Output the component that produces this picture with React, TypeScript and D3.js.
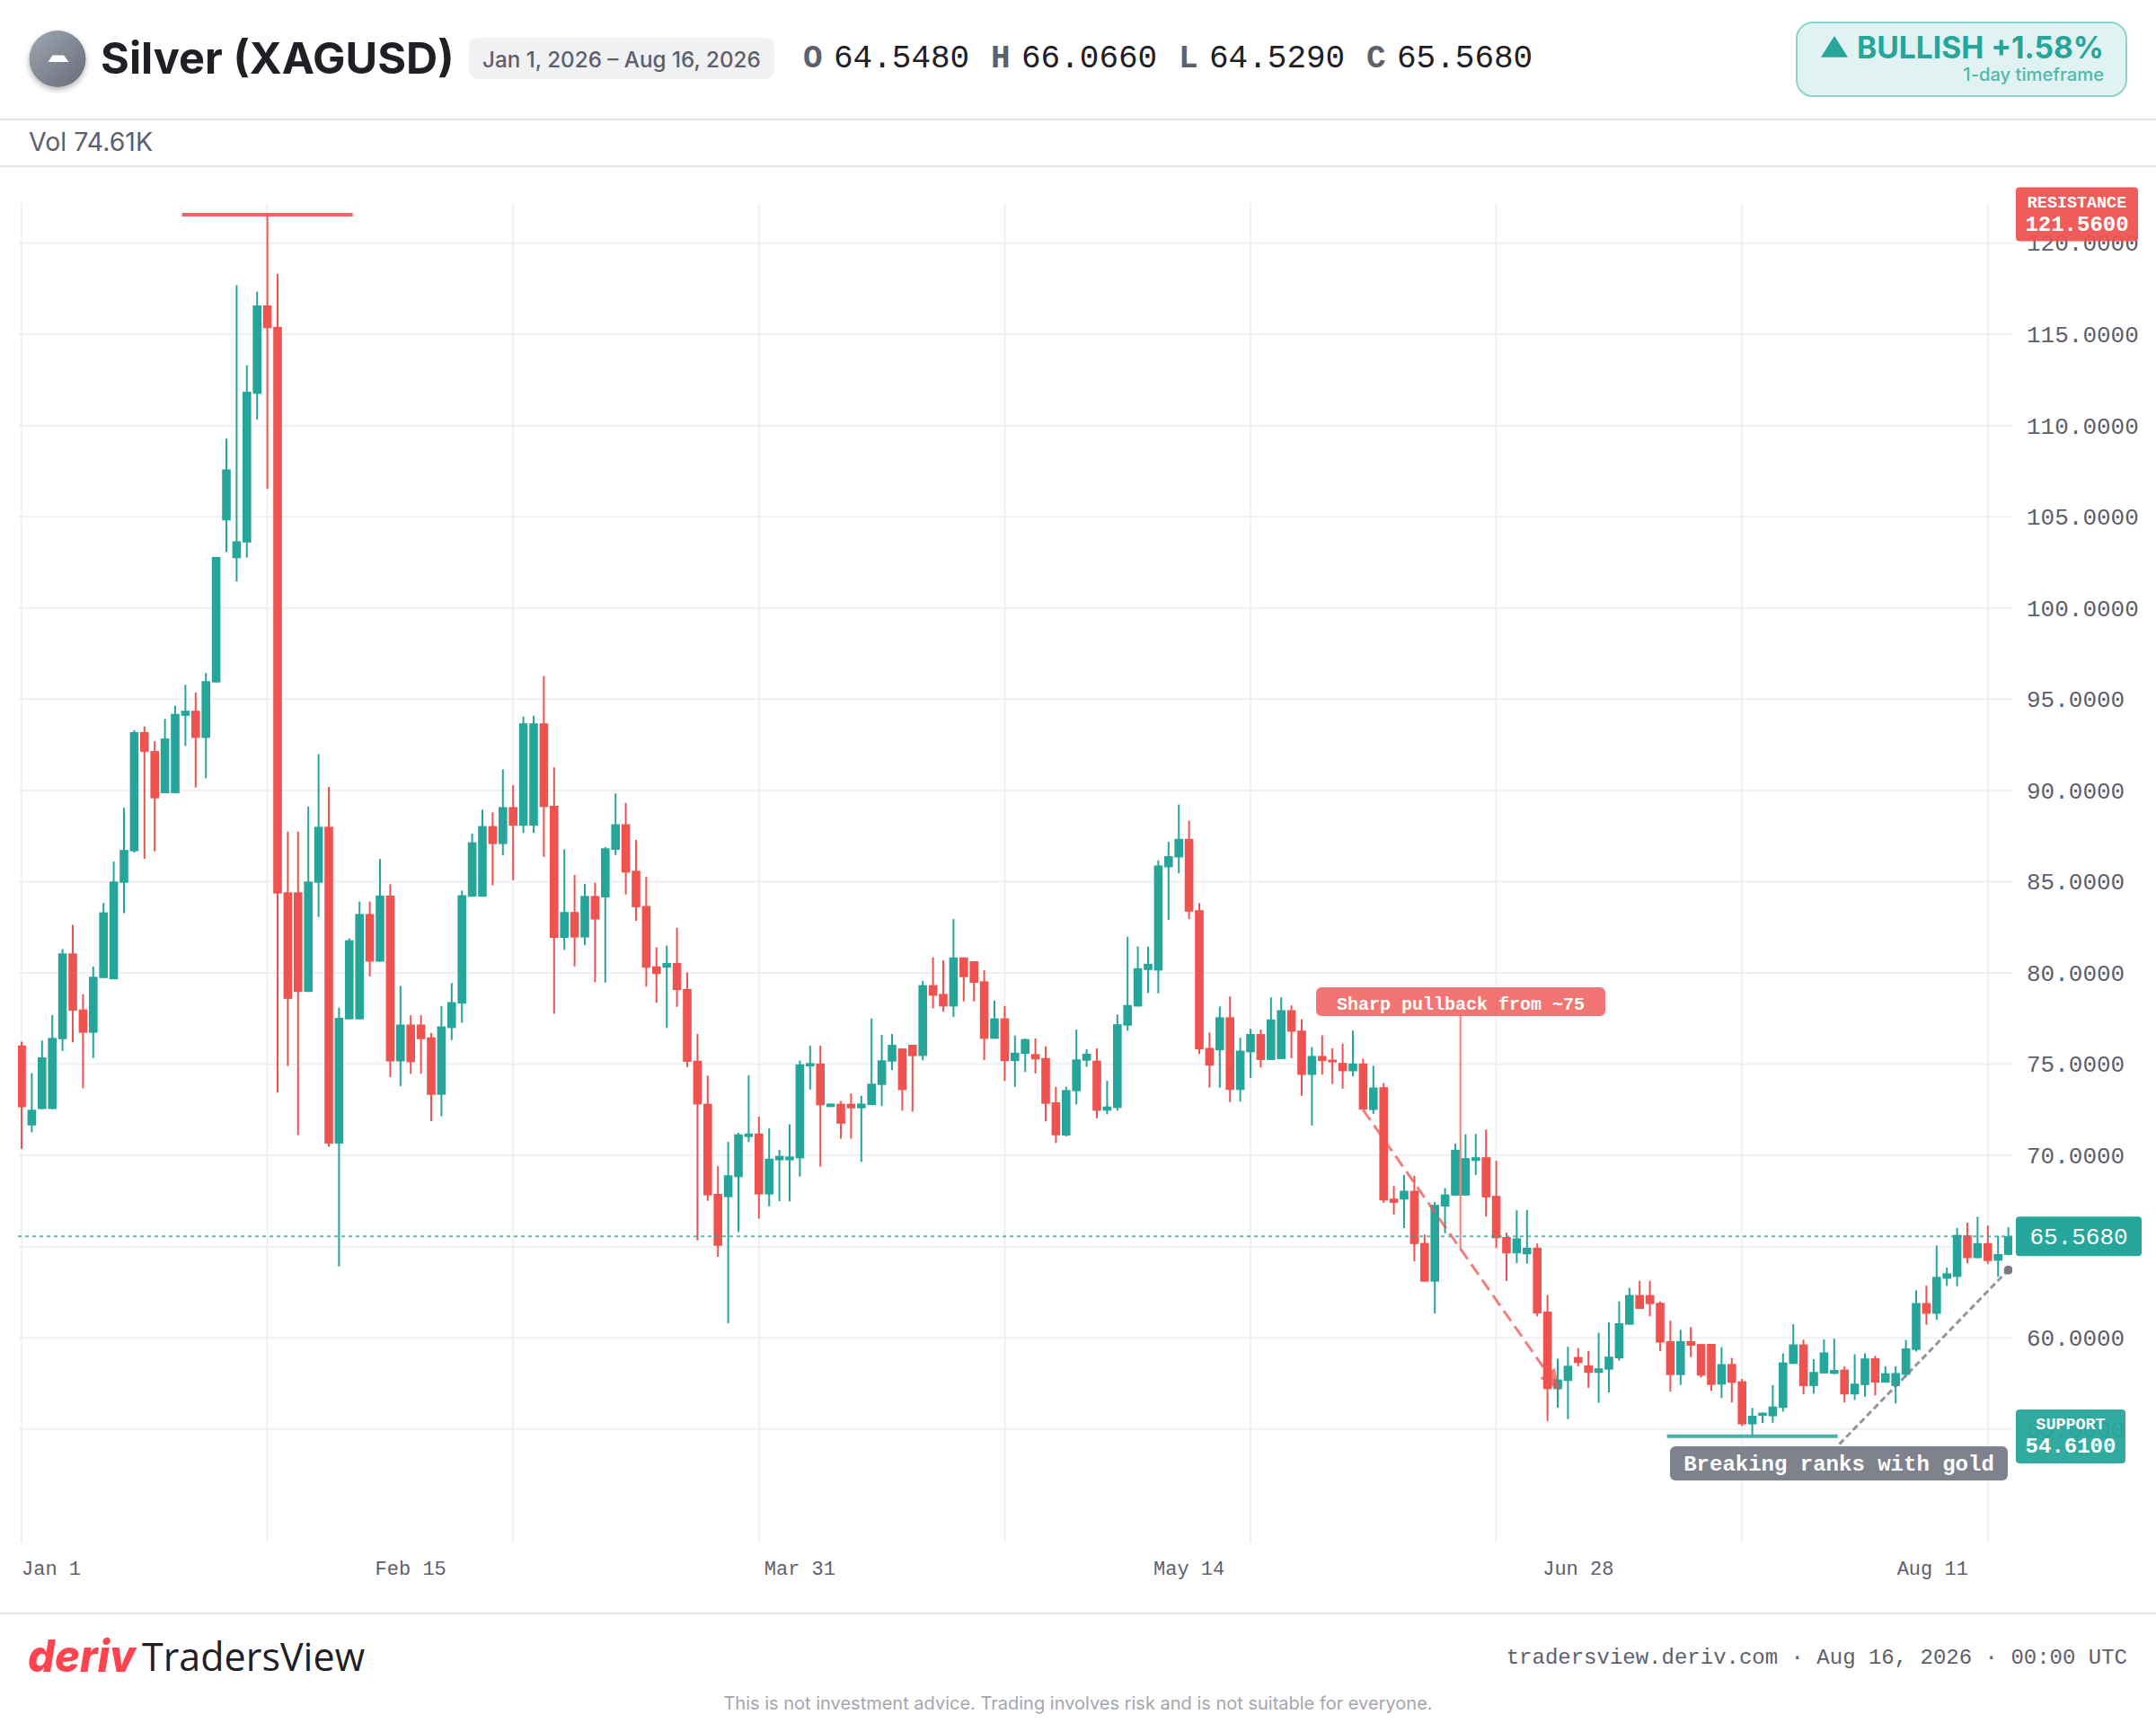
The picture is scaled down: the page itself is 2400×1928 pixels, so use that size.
import * as d3 from 'd3';
import { useEffect, useRef } from 'react';

// OHLC values, one entry per bar
const opens = [
  76.03, 71.64, 72.54, 72.54, 76.37, 81.07, 78.0, 76.72, 79.72, 79.65,
  84.94, 86.67, 93.2, 92.16, 89.85, 89.85, 94.09, 94.37, 92.88, 95.92,
  104.8, 102.73, 103.59, 111.74, 116.58, 115.41, 84.42, 84.42, 78.96, 84.94,
  88.01, 70.65, 77.46, 77.46, 83.23, 80.62, 84.24, 75.15, 77.17, 77.17,
  76.47, 73.32, 76.98, 78.32, 84.18, 84.18, 88.05, 87.06, 89.09, 88.07,
  88.07, 93.68, 89.16, 81.92, 83.34, 81.94, 84.22, 84.14, 86.75, 88.15,
  85.6, 83.67, 80.36, 80.29, 80.54, 79.12, 75.19, 72.83, 67.89, 67.71,
  68.81, 71.01, 71.2, 67.86, 69.73, 69.73, 69.84, 74.88, 75.04, 72.65,
  72.83, 72.83, 72.58, 72.76, 73.86, 75.14, 75.86, 76.06, 75.45, 79.33,
  78.85, 78.16, 80.85, 80.64, 79.54, 76.39, 77.51, 75.17, 75.57, 75.55,
  75.34, 72.91, 71.09, 73.52, 75.19, 75.19, 72.45, 72.6, 77.11, 78.16,
  80.16, 80.13, 85.79, 86.33, 87.35, 83.44, 75.89, 75.76, 77.57, 73.59,
  75.65, 76.65, 75.23, 75.28, 77.96, 76.84, 74.41, 75.45, 75.25, 75.07,
  74.61, 75.04, 72.49, 73.74, 67.63, 67.58, 68.06, 65.2, 63.08, 67.2,
  67.8, 67.8, 69.7, 69.9, 67.78, 65.53, 64.63, 64.58, 64.94, 61.44,
  57.19, 57.64, 58.95, 58.49, 58.08, 58.26, 58.88, 60.72, 62.35, 62.35,
  61.92, 59.82, 57.96, 59.82, 59.66, 59.67, 57.44, 58.57, 57.62, 55.26,
  55.73, 55.7, 56.16, 58.57, 59.64, 57.36, 58.05, 58.03, 58.26, 56.9,
  57.41, 58.88, 57.55, 57.36, 57.97, 59.34, 61.91, 61.32, 63.24, 63.34,
  65.62, 64.37, 65.19, 64.23, 64.548,
];
const highs = [
  76.24, 74.51, 76.3, 77.69, 81.31, 82.63, 78.83, 80.35, 83.83, 86.11,
  89.05, 93.3, 93.51, 92.71, 93.92, 94.65, 95.79, 95.37, 96.44, 102.8,
  109.29, 117.69, 113.3, 117.34, 121.56, 118.31, 87.74, 87.74, 89.12, 91.99,
  90.19, 78.09, 81.9, 83.91, 83.91, 86.24, 84.86, 79.29, 77.68, 77.68,
  76.72, 78.18, 79.45, 84.51, 87.64, 88.95, 88.79, 91.15, 90.29, 94.05,
  94.1, 96.27, 91.27, 86.77, 85.37, 84.88, 84.94, 86.9, 89.84, 89.32,
  87.29, 85.27, 81.4, 81.5, 82.47, 80.03, 76.65, 74.37, 69.41, 70.74,
  71.24, 74.39, 72.12, 71.48, 70.3, 71.71, 75.19, 76.01, 76.01, 72.84,
  72.98, 73.39, 73.27, 77.51, 76.6, 76.65, 75.86, 76.06, 79.56, 80.84,
  80.69, 82.95, 80.85, 80.64, 80.15, 78.49, 78.19, 76.57, 76.41, 76.41,
  75.98, 73.76, 73.76, 76.9, 75.81, 75.86, 74.09, 77.72, 81.98, 81.45,
  81.44, 86.17, 87.18, 89.23, 88.35, 83.83, 76.74, 78.16, 78.71, 76.45,
  76.94, 76.89, 78.66, 78.66, 78.22, 77.45, 75.94, 76.58, 75.87, 76.12,
  76.84, 75.3, 74.91, 73.97, 68.32, 68.93, 68.88, 65.66, 67.45, 68.21,
  70.65, 71.16, 71.18, 71.41, 69.7, 65.76, 66.99, 67.01, 65.17, 62.35,
  58.85, 59.51, 59.44, 59.29, 60.28, 60.85, 62.0, 62.74, 63.12, 63.12,
  61.99, 60.95, 60.44, 60.59, 59.66, 59.67, 59.49, 58.9, 57.75, 56.16,
  55.9, 57.41, 59.15, 60.75, 59.9, 58.83, 59.92, 59.95, 58.44, 59.1,
  59.15, 59.02, 58.44, 58.44, 59.89, 62.6, 62.86, 65.06, 63.85, 66.02,
  66.31, 66.64, 66.15, 65.59, 66.066,
];
const lows = [
  70.36, 71.26, 72.54, 72.54, 75.72, 76.2, 73.68, 75.34, 79.72, 79.65,
  83.28, 86.6, 86.25, 86.67, 89.85, 89.85, 92.44, 90.16, 90.67, 95.92,
  103.07, 101.45, 102.76, 110.33, 106.53, 73.44, 74.89, 71.12, 78.96, 83.07,
  70.47, 63.91, 77.46, 77.46, 79.82, 80.62, 74.29, 73.8, 74.47, 74.47,
  71.88, 72.15, 76.32, 77.27, 84.18, 84.18, 84.8, 86.44, 85.08, 87.68,
  87.68, 86.36, 77.76, 81.26, 80.36, 81.53, 79.49, 79.47, 86.46, 84.3,
  82.86, 79.25, 78.36, 76.98, 78.14, 74.85, 65.34, 67.51, 64.44, 60.8,
  65.8, 70.73, 66.53, 67.21, 67.49, 67.48, 68.84, 73.6, 69.38, 72.65,
  70.92, 70.92, 69.64, 72.76, 72.7, 74.67, 72.45, 72.4, 75.21, 78.06,
  77.88, 77.59, 78.44, 78.44, 75.22, 76.39, 74.08, 73.76, 74.57, 74.49,
  71.86, 70.68, 71.04, 72.8, 74.86, 72.02, 72.25, 72.45, 76.83, 78.16,
  78.91, 78.88, 82.9, 85.46, 82.95, 75.56, 73.72, 73.71, 72.92, 72.95,
  74.25, 74.82, 75.23, 75.28, 75.33, 73.27, 71.64, 74.43, 73.92, 73.66,
  74.33, 72.51, 72.28, 67.4, 66.76, 66.02, 64.2, 63.08, 61.34, 65.73,
  67.8, 67.8, 68.93, 66.65, 64.92, 63.12, 64.09, 64.07, 61.18, 55.44,
  56.17, 55.55, 58.44, 57.26, 56.44, 57.01, 58.75, 60.72, 61.59, 61.18,
  59.28, 57.05, 57.42, 58.95, 57.83, 57.09, 56.7, 56.46, 55.17, 54.61,
  55.34, 55.34, 55.96, 58.57, 56.9, 56.95, 58.05, 58.0, 56.46, 56.6,
  56.77, 56.85, 57.55, 56.41, 57.84, 59.25, 60.71, 60.99, 62.85, 62.83,
  64.09, 64.37, 64.05, 63.34, 64.529,
];
const closes = [
  72.64, 72.5, 75.37, 76.44, 81.07, 77.93, 76.72, 79.79, 83.32, 85.01,
  86.74, 93.2, 92.12, 89.57, 92.85, 94.2, 94.37, 92.88, 95.99, 102.8,
  107.6, 103.66, 111.85, 116.58, 115.34, 84.35, 78.58, 78.96, 85.01, 88.01,
  70.65, 77.54, 81.79, 83.23, 80.62, 84.24, 75.15, 77.17, 75.11, 76.37,
  73.32, 77.07, 78.4, 84.26, 87.16, 88.05, 87.06, 89.09, 88.07, 93.68,
  93.68, 89.09, 81.92, 83.34, 81.94, 84.22, 82.93, 86.83, 88.15, 85.5,
  83.6, 80.29, 79.94, 80.54, 79.06, 75.13, 72.79, 67.81, 65.05, 68.91,
  71.15, 71.2, 67.86, 69.82, 69.97, 69.94, 74.99, 75.06, 72.75, 72.84,
  71.74, 72.58, 72.84, 73.93, 75.21, 76.06, 73.58, 75.44, 79.33, 78.75,
  78.16, 80.85, 79.77, 79.46, 76.39, 77.51, 75.17, 75.63, 76.37, 75.26,
  72.83, 71.1, 73.58, 75.26, 75.57, 72.45, 72.68, 77.19, 78.24, 80.26,
  80.5, 85.89, 86.4, 87.35, 83.36, 75.81, 74.92, 77.57, 73.59, 75.74,
  76.65, 75.23, 77.45, 77.96, 76.78, 74.41, 75.45, 75.17, 75.1, 74.61,
  75.04, 72.51, 73.72, 67.53, 67.4, 68.06, 65.14, 63.08, 67.29, 67.86,
  70.31, 69.85, 69.9, 67.7, 65.46, 64.63, 65.45, 64.94, 61.34, 57.19,
  57.72, 58.47, 58.62, 58.08, 58.33, 58.97, 60.8, 62.35, 61.59, 61.85,
  59.74, 57.96, 59.82, 59.57, 57.93, 57.42, 58.56, 57.54, 55.26, 55.73,
  55.9, 56.24, 58.65, 59.64, 57.36, 58.13, 59.2, 58.24, 56.9, 57.49,
  58.87, 57.55, 58.06, 58.07, 59.42, 61.91, 61.32, 63.34, 63.54, 65.64,
  64.37, 65.19, 64.21, 64.59, 65.568,
];

const priceTicks = [55, 60, 65, 70, 75, 80, 85, 90, 95, 100, 105, 110, 115, 120];
const gridBars = [0, 24, 48, 72, 96, 120, 144, 168, 192];
const dateLabels = ['Jan 1', 'Feb 15', 'Mar 31', 'May 14', 'Jun 28', 'Aug 11'];
const dateBars = [0, 38, 76, 114, 152, 186.6];

const lastPrice = 65.568;
const resistance = 121.56;
const support = 54.61;
const resistanceBar = 24;
const supportBar = 169;
const pullbackFrom = [131, 72.5];
const pullbackTo = [150.2, 57.1];
const pullbackLabelBar = 140.5;
const pullbackLabelEnd = 64.85;
const trendFrom = [177.5, 54.17];
const trendTo = [194, 63.72];

const ohlcHeader = [
  ['O', '64.5480', 894, 928],
  ['H', '66.0660', 1103, 1137],
  ['L', '64.5290', 1312, 1346],
  ['C', '65.5680', 1521, 1555],
];

const GREEN = '#26a69a';
const RED = '#ef5350';
const GRAY = '#787b86';
const MUTED = '#5d606b';
const DARK = '#1e2026';
const MONO = '"Liberation Mono", monospace';
const SANS = 'Inter, sans-serif';

export default function App() {
  const svgRef = useRef(null);

  useEffect(() => {
    const svg = d3.select(svgRef.current);
    svg.selectAll('*').remove();

    const x = d3.scaleLinear().domain([0, 194]).range([24, 2235.6]);
    const y = d3.scaleLinear().domain([120, 55]).range([270.6, 1590.8]);

    const defs = svg.append('defs');
    defs
      .append('clipPath')
      .attr('id', 'plot')
      .append('rect')
      .attr('x', 20)
      .attr('y', 226)
      .attr('width', 2220)
      .attr('height', 1491);
    const grad = defs
      .append('linearGradient')
      .attr('id', 'coin')
      .attr('x1', 0)
      .attr('y1', 0)
      .attr('x2', 1)
      .attr('y2', 1);
    grad.append('stop').attr('offset', 0).attr('stop-color', '#a0a6b1');
    grad.append('stop').attr('offset', 1).attr('stop-color', '#656b78');
    const shadow = defs.append('filter').attr('id', 'coinShadow');
    shadow
      .append('feDropShadow')
      .attr('dx', 0)
      .attr('dy', 3)
      .attr('stdDeviation', 3)
      .attr('flood-opacity', 0.3);

    const addText = (
      parent: any,
      str: string,
      tx: number,
      ty: number,
      size: number,
      fill: string,
      family = MONO,
      weight: any = 400,
      anchor = 'start'
    ) =>
      parent
        .append('text')
        .attr('x', tx)
        .attr('y', ty)
        .attr('font-family', family)
        .attr('font-size', size)
        .attr('font-weight', weight)
        .attr('fill', fill)
        .attr('text-anchor', anchor)
        .text(str);

    // Header
    const head = svg.append('g');
    head
      .append('circle')
      .attr('cx', 64)
      .attr('cy', 65.5)
      .attr('r', 31.5)
      .attr('fill', 'url(#coin)')
      .attr('filter', 'url(#coinShadow)');
    head
      .append('path')
      .attr('d', 'M58.5,61.5 L71,61.5 L76.5,69 L53.5,69 Z')
      .attr('fill', '#fff');
    addText(head, 'Silver (XAGUSD)', 112, 82, 48.7, DARK, SANS, 700);
    head
      .append('rect')
      .attr('x', 522)
      .attr('y', 42)
      .attr('width', 340)
      .attr('height', 46)
      .attr('rx', 10)
      .attr('fill', '#f0f1f3');
    addText(head, 'Jan 1, 2026 – Aug 16, 2026', 537, 75, 24.2, MUTED, SANS, 500);
    ohlcHeader.forEach(([label, value, lx, vx]) => {
      addText(head, label as string, lx as number, 75, 36, MUTED, MONO, 700);
      addText(head, value as string, vx as number, 75, 36, DARK);
    });

    // Bullish badge
    head
      .append('rect')
      .attr('x', 2000)
      .attr('y', 25)
      .attr('width', 367)
      .attr('height', 82)
      .attr('rx', 18)
      .attr('fill', '#e0f2f1')
      .attr('stroke', '#8fd3cc')
      .attr('stroke-width', 2);
    head.append('path').attr('d', 'M2027,63.7 L2042,40 L2057,63.7 Z').attr('fill', GREEN);
    addText(head, 'BULLISH +1.58%', 2067, 64.5, 33.6, GREEN, SANS, 700);
    addText(head, '1-day timeframe', 2342, 90, 20.2, '#52b8ae', SANS, 500, 'end');

    // Dividers
    [133, 185, 1796].forEach((d) => {
      svg
        .append('line')
        .attr('x1', 0)
        .attr('x2', 2400)
        .attr('y1', d)
        .attr('y2', d)
        .attr('stroke', '#e4e4ea')
        .attr('stroke-width', 2);
    });
    addText(svg, 'Vol 74.61K', 32, 168, 28.5, MUTED, SANS, 400);

    // Grid
    const grid = svg.append('g').attr('clip-path', 'url(#plot)');
    grid
      .selectAll('line.v')
      .data(gridBars)
      .join('line')
      .attr('class', 'v')
      .attr('x1', (d) => x(d))
      .attr('x2', (d) => x(d))
      .attr('y1', 226)
      .attr('y2', 1717)
      .attr('stroke', '#f0f0f3')
      .attr('stroke-width', 2);
    grid
      .selectAll('line.h')
      .data(priceTicks)
      .join('line')
      .attr('class', 'h')
      .attr('x1', 20)
      .attr('x2', 2240)
      .attr('y1', (d) => y(d))
      .attr('y2', (d) => y(d))
      .attr('stroke', '#f0f0f3')
      .attr('stroke-width', 2);

    // Price axis
    const axis = svg
      .append('g')
      .attr('transform', 'translate(2256,0)')
      .call(
        d3
          .axisRight(y)
          .tickValues(priceTicks)
          .tickSize(0)
          .tickPadding(0)
          .tickFormat((d: any) => d.toFixed(4))
      );
    axis.select('.domain').remove();
    axis
      .selectAll('text')
      .attr('font-family', MONO)
      .attr('font-size', 26)
      .attr('fill', MUTED);

    // Date labels
    svg
      .selectAll('text.date')
      .data(dateLabels)
      .join('text')
      .attr('class', 'date')
      .attr('x', (d, i) => x(dateBars[i]))
      .attr('y', 1753)
      .attr('font-family', MONO)
      .attr('font-size', 22)
      .attr('fill', MUTED)
      .attr('text-anchor', (d, i) => (i === 0 ? 'start' : 'middle'))
      .text((d) => d);

    // Candles
    const plot = svg.append('g').attr('clip-path', 'url(#plot)');
    const bars = d3.range(opens.length);
    const colorOf = (i: number) => (closes[i] >= opens[i] ? GREEN : RED);
    plot
      .selectAll('line.wick')
      .data(bars)
      .join('line')
      .attr('class', 'wick')
      .attr('x1', (i) => x(i))
      .attr('x2', (i) => x(i))
      .attr('y1', (i) => y(highs[i]))
      .attr('y2', (i) => y(lows[i]))
      .attr('stroke', colorOf)
      .attr('stroke-width', 2);
    plot
      .selectAll('rect.body')
      .data(bars)
      .join('rect')
      .attr('class', 'body')
      .attr('x', (i) => x(i) - 4.8)
      .attr('width', 9.6)
      .attr('y', (i) => y(Math.max(opens[i], closes[i])))
      .attr('height', (i) => Math.max(2, Math.abs(y(opens[i]) - y(closes[i]))))
      .attr('fill', colorOf);

    // Last price line
    plot
      .append('line')
      .attr('x1', 20)
      .attr('x2', 2240)
      .attr('y1', y(lastPrice))
      .attr('y2', y(lastPrice))
      .attr('stroke', GREEN)
      .attr('stroke-opacity', 0.75)
      .attr('stroke-width', 2)
      .attr('stroke-dasharray', '4 4');

    // Resistance and support levels
    plot
      .append('line')
      .attr('x1', x(resistanceBar) - 95)
      .attr('x2', x(resistanceBar) + 95)
      .attr('y1', y(resistance))
      .attr('y2', y(resistance))
      .attr('stroke', RED)
      .attr('stroke-opacity', 0.9)
      .attr('stroke-width', 4);
    plot
      .append('line')
      .attr('x1', x(supportBar) - 95)
      .attr('x2', x(supportBar) + 95)
      .attr('y1', y(support))
      .attr('y2', y(support))
      .attr('stroke', GREEN)
      .attr('stroke-opacity', 0.85)
      .attr('stroke-width', 4);

    // Pullback arrow
    const ax1 = x(pullbackFrom[0]);
    const ay1 = y(pullbackFrom[1]);
    const ax2 = x(pullbackTo[0]);
    const ay2 = y(pullbackTo[1]);
    const ang = Math.atan2(ay2 - ay1, ax2 - ax1);
    const ux = Math.cos(ang);
    const uy = Math.sin(ang);
    plot
      .append('line')
      .attr('x1', ax1)
      .attr('y1', ay1)
      .attr('x2', ax2 - ux * 20)
      .attr('y2', ay2 - uy * 20)
      .attr('stroke', RED)
      .attr('stroke-opacity', 0.75)
      .attr('stroke-width', 3)
      .attr('stroke-dasharray', '14 7');
    plot
      .append('path')
      .attr(
        'd',
        d3.line()([
          [ax2, ay2],
          [ax2 - ux * 24 + uy * 10, ay2 - uy * 24 - ux * 10],
          [ax2 - ux * 24 - uy * 10, ay2 - uy * 24 + ux * 10],
        ]) + 'Z'
      )
      .attr('fill', RED)
      .attr('fill-opacity', 0.75);

    // Pullback callout
    plot
      .append('line')
      .attr('x1', x(pullbackLabelBar))
      .attr('x2', x(pullbackLabelBar))
      .attr('y1', 1130)
      .attr('y2', y(pullbackLabelEnd))
      .attr('stroke', RED)
      .attr('stroke-opacity', 0.75)
      .attr('stroke-width', 2);
    plot
      .append('rect')
      .attr('x', 1465)
      .attr('y', 1099)
      .attr('width', 322)
      .attr('height', 32)
      .attr('rx', 6)
      .attr('fill', RED)
      .attr('fill-opacity', 0.8);
    addText(plot, 'Sharp pullback from ~75', 1626, 1123.5, 20, '#fff', MONO, 700, 'middle');

    // Trend line and its label
    plot
      .append('line')
      .attr('x1', x(trendFrom[0]))
      .attr('y1', y(trendFrom[1]))
      .attr('x2', x(trendTo[0]))
      .attr('y2', y(trendTo[1]))
      .attr('stroke', GRAY)
      .attr('stroke-opacity', 0.8)
      .attr('stroke-width', 3)
      .attr('stroke-dasharray', '7 4');
    plot
      .append('circle')
      .attr('cx', x(trendTo[0]))
      .attr('cy', y(trendTo[1]))
      .attr('r', 5)
      .attr('fill', GRAY);
    plot
      .append('rect')
      .attr('x', 1859)
      .attr('y', 1610)
      .attr('width', 376)
      .attr('height', 38)
      .attr('rx', 6)
      .attr('fill', GRAY)
      .attr('fill-opacity', 0.95);
    addText(plot, 'Breaking ranks with gold', 2047, 1637, 24, '#fff', MONO, 700, 'middle');

    // Axis tags
    const tags = svg.append('g');
    tags
      .append('rect')
      .attr('x', 2244)
      .attr('y', y(lastPrice) - 22)
      .attr('width', 140)
      .attr('height', 44)
      .attr('rx', 4)
      .attr('fill', GREEN);
    addText(tags, lastPrice.toFixed(4), 2314, y(lastPrice) + 9, 26, '#fff', MONO, 400, 'middle');

    tags
      .append('rect')
      .attr('x', 2244)
      .attr('y', 208.5)
      .attr('width', 136)
      .attr('height', 60)
      .attr('rx', 4)
      .attr('fill', RED)
      .attr('fill-opacity', 0.95);
    addText(tags, 'RESISTANCE', 2312, 230.5, 18.4, '#fff', MONO, 700, 'middle');
    addText(tags, resistance.toFixed(4), 2312, 256.5, 24, '#fff', MONO, 700, 'middle');

    tags
      .append('rect')
      .attr('x', 2244)
      .attr('y', 1569)
      .attr('width', 122)
      .attr('height', 60)
      .attr('rx', 4)
      .attr('fill', GREEN)
      .attr('fill-opacity', 0.95);
    addText(tags, 'SUPPORT', 2305, 1591, 18.4, '#fff', MONO, 700, 'middle');
    addText(tags, support.toFixed(4), 2305, 1617, 24, '#fff', MONO, 700, 'middle');

    // Footer
    addText(svg, 'deriv', 31, 1861, 50, '#ff444f', SANS, 800)
      .attr('font-style', 'italic')
      .attr('textLength', 120)
      .attr('lengthAdjust', 'spacingAndGlyphs');
    addText(svg, 'TradersView', 158, 1860, 44, DARK, '"Open Sans", sans-serif', 400)
      .attr('textLength', 248)
      .attr('lengthAdjust', 'spacingAndGlyphs');
    addText(
      svg,
      'tradersview.deriv.com · Aug 16, 2026 · 00:00 UTC',
      2368,
      1851.5,
      24,
      MUTED,
      MONO,
      400,
      'end'
    );
    addText(
      svg,
      'This is not investment advice. Trading involves risk and is not suitable for everyone.',
      1200,
      1903,
      20,
      '#a3a6af',
      SANS,
      400,
      'middle'
    );
  }, []);

  return (
    <svg
      ref={svgRef}
      width={2400}
      height={1928}
      style={{ position: 'absolute', left: 0, top: 0, background: '#fff' }}
    />
  );
}
